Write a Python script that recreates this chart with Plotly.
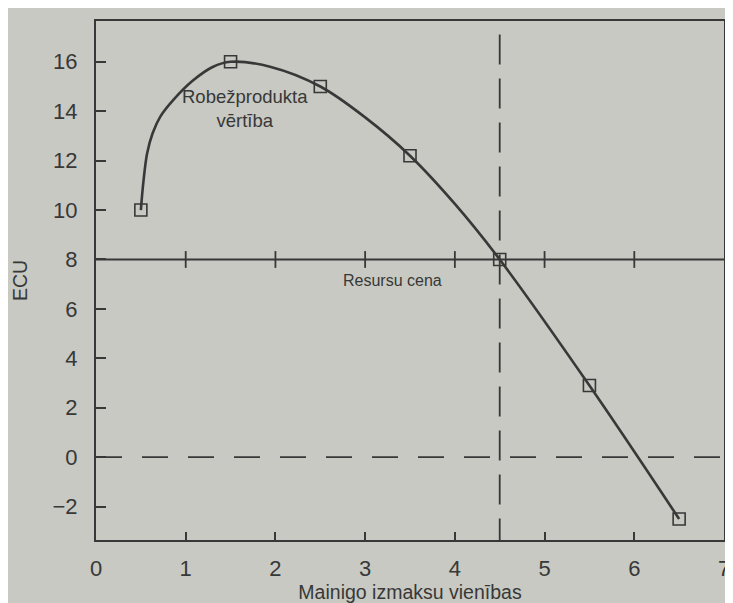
import plotly.graph_objects as go

# curve (marginal revenue product)
curve_x = [0.5, 0.53, 0.57, 0.63, 0.72, 0.86, 1.08, 1.3, 1.5, 1.95, 2.5, 3.0, 3.5, 4.0, 4.5, 5.5, 6.5]
curve_y = [10, 11.2, 12.3, 13.1, 13.8, 14.45, 15.24, 15.79, 16, 15.79, 15, 13.75, 12.2, 10.25, 8, 2.9, -2.5]

# square markers
pts_x = [0.5, 1.5, 2.5, 3.5, 4.5, 5.5, 6.5]
pts_y = [10, 16, 15, 12.2, 8, 2.9, -2.5]

price = 8
price_ticks = [1, 2, 3, 4, 5, 6]
opt_x = 4.5
zero_y = 0

xticks = [0, 1, 2, 3, 4, 5, 6, 7]
yticks = [-2, 0, 2, 4, 6, 8, 10, 12, 14, 16]

ink = "#383838"
paper = "#c7c9c2"
font = "Liberation Sans, Arial, sans-serif"

fig = go.Figure()

# resource price line
fig.add_trace(go.Scatter(x=[0, 7], y=[price, price], mode="lines",
                         line=dict(color=ink, width=2.2), hoverinfo="skip"))
fig.add_trace(go.Scatter(x=price_ticks, y=[price] * len(price_ticks), mode="markers",
                         marker=dict(symbol="line-ns", size=12, line=dict(color=ink, width=1.8)),
                         hoverinfo="skip"))

# dashed guides
fig.add_trace(go.Scatter(x=[0, 7], y=[zero_y, zero_y], mode="lines",
                         line=dict(color=ink, width=1.8, dash="26px,20px"), hoverinfo="skip"))
fig.add_trace(go.Scatter(x=[opt_x, opt_x], y=[17.1, -3.4], mode="lines",
                         line=dict(color=ink, width=1.8, dash="30px,14px"), hoverinfo="skip"))

# curve + points
fig.add_trace(go.Scatter(x=curve_x, y=curve_y, mode="lines",
                         line=dict(color=ink, width=2.6, shape="spline", smoothing=1.0)))
fig.add_trace(go.Scatter(x=pts_x, y=pts_y, mode="markers",
                         marker=dict(symbol="square-open", size=12, color=ink,
                                     line=dict(color=ink, width=1.6))))

fig.add_annotation(x=1.66, y=14.1, text="Robežprodukta<br>vērtība", showarrow=False,
                   font=dict(size=18.5, color=ink, family=font), align="center")
fig.add_annotation(x=3.3, y=7.15, text="Resursu cena", showarrow=False,
                   font=dict(size=16, color=ink, family=font))

fig.update_layout(
    width=733, height=603,
    margin=dict(l=88, r=11, t=12, b=71),
    paper_bgcolor=paper, plot_bgcolor=paper,
    showlegend=False,
    font=dict(family=font, color=ink, size=20),
)
fig.update_xaxes(range=[0, 7], tickvals=xticks, ticks="inside", ticklen=8, tickwidth=1.6,
                 tickcolor=ink, showline=True, linecolor=ink, linewidth=2, mirror=True,
                 showgrid=False, zeroline=False, ticklabelstandoff=8,
                 tickfont=dict(size=22),
                 title=dict(text="Mainigo izmaksu vienības", font=dict(size=19.5), standoff=4))
fig.update_yaxes(range=[-3.35, 17.65], tickvals=yticks, ticks="inside", ticklen=10, tickwidth=1.6,
                 tickcolor=ink, showline=True, linecolor=ink, linewidth=2, mirror=True,
                 showgrid=False, zeroline=False, ticklabelstandoff=12,
                 tickfont=dict(size=22),
                 title=dict(text="ECU", font=dict(size=19.5), standoff=20))

fig.write_html("out.html")
